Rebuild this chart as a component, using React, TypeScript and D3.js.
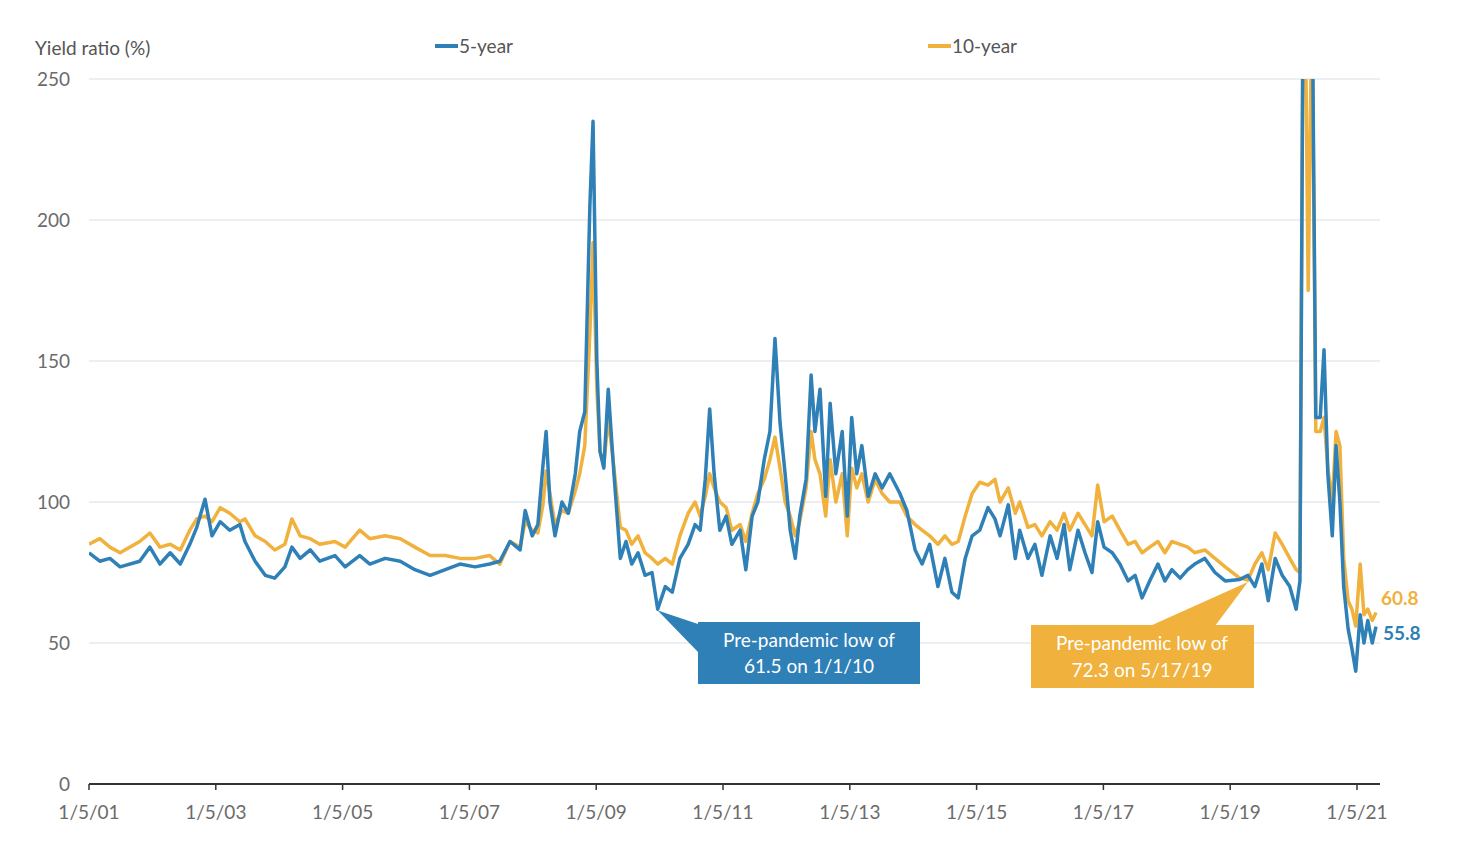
import React from "react";
import * as d3 from "d3";

// decimal years
const dates = [
  2001.0, 2001.17, 2001.33, 2001.49, 2001.8, 2001.96, 2002.12, 2002.28, 2002.44, 2002.59,
  2002.7, 2002.83, 2002.94, 2003.07, 2003.22, 2003.38, 2003.46, 2003.62, 2003.78, 2003.93,
  2004.09, 2004.2, 2004.33, 2004.49, 2004.64, 2004.88, 2005.04, 2005.27, 2005.43, 2005.67,
  2005.91, 2006.14, 2006.38, 2006.62, 2006.85, 2007.09, 2007.32, 2007.48, 2007.64, 2007.8,
  2007.88, 2007.99, 2008.08, 2008.16, 2008.21, 2008.27, 2008.35, 2008.46, 2008.56, 2008.67,
  2008.74, 2008.82, 2008.9, 2008.95, 2009.01, 2009.06, 2009.12, 2009.19, 2009.28, 2009.38,
  2009.47, 2009.56, 2009.66, 2009.77, 2009.88, 2009.97, 2010.09, 2010.2, 2010.32, 2010.45,
  2010.56, 2010.64, 2010.72, 2010.79, 2010.86, 2010.95, 2011.05, 2011.14, 2011.27, 2011.36,
  2011.46, 2011.55, 2011.65, 2011.74, 2011.82, 2011.9, 2011.98, 2012.06, 2012.14, 2012.21,
  2012.31, 2012.39, 2012.45, 2012.53, 2012.62, 2012.69, 2012.78, 2012.88, 2012.96, 2013.03,
  2013.11, 2013.19, 2013.29, 2013.4, 2013.51, 2013.63, 2013.79, 2013.9, 2014.03, 2014.14,
  2014.26, 2014.39, 2014.5, 2014.61, 2014.71, 2014.82, 2014.93, 2015.05, 2015.18, 2015.29,
  2015.37, 2015.5, 2015.61, 2015.68, 2015.81, 2015.92, 2016.03, 2016.16, 2016.27, 2016.38,
  2016.47, 2016.6, 2016.71, 2016.82, 2016.91, 2017.01, 2017.14, 2017.26, 2017.39, 2017.5,
  2017.61, 2017.73, 2017.86, 2017.97, 2018.08, 2018.21, 2018.33, 2018.44, 2018.6, 2018.76,
  2018.92, 2019.15, 2019.28, 2019.39, 2019.5, 2019.6, 2019.71, 2019.82, 2019.94, 2020.04,
  2020.1, 2020.16, 2020.23, 2020.29, 2020.35, 2020.42, 2020.48, 2020.54, 2020.61, 2020.67,
  2020.73, 2020.79, 2020.86, 2020.92, 2020.98, 2021.05, 2021.11, 2021.17, 2021.24, 2021.3,
];

const fiveYear = [
  82, 79, 80, 77, 79, 84, 78, 82, 78, 85,
  91, 101, 88, 93, 90, 92, 86, 79, 74, 73,
  77, 84, 80, 83, 79, 81, 77, 81, 78, 80,
  79, 76, 74, 76, 78, 77, 78, 79, 86, 83,
  97, 88, 92, 113, 125, 100, 88, 100, 96, 110,
  125, 132, 205, 235, 150, 118, 112, 140, 110, 80,
  86, 78, 82, 74, 75, 62, 70, 68, 80, 85,
  92, 90, 108, 133, 110, 90, 95, 85, 90, 76,
  95, 100, 115, 125, 158, 128, 110, 90, 80, 95,
  108, 145, 125, 140, 102, 135, 110, 125, 95, 130,
  110, 120, 102, 110, 105, 110, 103, 97, 83, 78,
  85, 70, 80, 68, 66, 80, 88, 90, 98, 94,
  88, 99, 80, 90, 80, 85, 74, 88, 80, 92,
  76, 90, 82, 75, 93, 84, 82, 78, 72, 74,
  66, 72, 78, 72, 76, 73, 76, 78, 80, 75,
  72, 72.5, 74, 70, 78, 65, 80, 74, 70, 62,
  72, 320, 300, 290, 130, 130, 154, 110, 88, 120,
  100, 70, 55, 48, 40, 60, 50, 58, 50, 55.8,
];

const tenYear = [
  85, 87, 84, 82, 86, 89, 84, 85, 83, 90,
  94, 95, 93, 98, 96, 93, 94, 88, 86, 83,
  85, 94, 88, 87, 85, 86, 84, 90, 87, 88,
  87, 84, 81, 81, 80, 80, 81, 78, 86, 84,
  93, 90, 89, 99, 111, 103, 92, 97, 96, 104,
  110, 120, 160, 192, 140, 118, 113, 130, 112, 91,
  90, 85, 88, 82, 80, 78, 80, 78, 88, 96,
  100, 95, 102, 110, 105, 100, 98, 90, 92, 86,
  96, 103, 108, 115, 123, 112, 100, 95, 88, 93,
  105, 125, 115, 110, 95, 115, 100, 110, 88, 112,
  105, 110, 100, 108, 103, 100, 100, 95, 92, 90,
  88, 85, 88, 85, 86, 95, 103, 107, 106, 108,
  100, 105, 96, 100, 91, 92, 88, 93, 90, 96,
  90, 96, 92, 88, 106, 93, 95, 90, 85, 86,
  82, 84, 86, 82, 86, 85, 84, 82, 83, 80,
  77, 73, 72.3, 78, 82, 76, 89, 85, 80, 76,
  75, 330, 175, 280, 125, 125, 130, 112, 100, 125,
  120, 80, 65, 62, 56, 78, 60, 62, 58, 60.8,
];

const yTicks = [0, 50, 100, 150, 200, 250];
const xTicks = [2001, 2003, 2005, 2007, 2009, 2011, 2013, 2015, 2017, 2019, 2021];
const xTickLabels = ["1/5/01", "1/5/03", "1/5/05", "1/5/07", "1/5/09", "1/5/11", "1/5/13", "1/5/15", "1/5/17", "1/5/19", "1/5/21"];

const BLUE = "#2f80b6";
const ORANGE = "#f0b13d";
const GREY = "#6b6b6b";
const FONT = "Lato, 'Open Sans', sans-serif";

export default function App() {
  const W = 1460, H = 846;
  const left = 89, right = 1380, top = 79, bottom = 784;
  const x = d3.scaleLinear().domain([2001, 2021]).range([left, 1357]);
  const y = d3.scaleLinear().domain([0, 250]).range([bottom, top]);

  const line = d3.line<number>().x((_, i) => x(dates[i])).y(d => y(d));

  const lowBlue = { t: 2009.97, v: 61.5 };
  const lowOrange = { t: 2019.28, v: 72.3 };

  return (
    <svg width={W} height={H} style={{ position: "absolute", left: 0, top: 0, background: "#fff" }} fontFamily={FONT}>
      <defs>
        <clipPath id="plot">
          <rect x={left} y={top} width={right - left + 20} height={bottom - top} />
        </clipPath>
      </defs>

      {yTicks.map(t => (
        <g key={t}>
          {t > 0 && <line x1={left} x2={right} y1={y(t)} y2={y(t)} stroke="#e6e8ec" strokeWidth={1.5} />}
          <text x={70} y={y(t)} dy="0.35em" textAnchor="end" fontSize={19} fill={GREY}>{t}</text>
        </g>
      ))}

      <line x1={left} x2={right} y1={bottom} y2={bottom} stroke="#333" strokeWidth={2} />
      {xTicks.map((t, i) => (
        <g key={t}>
          <line x1={x(t)} x2={x(t)} y1={bottom} y2={bottom + 6} stroke="#333" strokeWidth={1.5} />
          <text x={x(t)} y={819} textAnchor="middle" fontSize={19} fill={GREY}>{xTickLabels[i]}</text>
        </g>
      ))}

      <text x={35} y={55} fontSize={19} fill="#555">Yield ratio (%)</text>
      <line x1={435} x2={458} y1={46} y2={46} stroke={BLUE} strokeWidth={4} />
      <text x={459} y={53} fontSize={19} fill="#555">5-year</text>
      <line x1={928} x2={951} y1={46} y2={46} stroke={ORANGE} strokeWidth={4} />
      <text x={952} y={53} fontSize={19} fill="#555">10-year</text>

      <g clipPath="url(#plot)">
        <path d={line(tenYear) ?? ""} fill="none" stroke={ORANGE} strokeWidth={3.5} strokeLinejoin="round" />
        <path d={line(fiveYear) ?? ""} fill="none" stroke={BLUE} strokeWidth={3.5} strokeLinejoin="round" />
      </g>

      {/* blue annotation */}
      <polygon points={`${x(lowBlue.t)},${y(lowBlue.v)} 698,624 698,652`} fill={BLUE} />
      <rect x={698} y={622} width={222} height={62} fill={BLUE} />
      <text x={809} y={647} textAnchor="middle" fontSize={19} fill="#fff">Pre-pandemic low of</text>
      <text x={809} y={673} textAnchor="middle" fontSize={19} fill="#fff">61.5 on 1/1/10</text>

      {/* orange annotation */}
      <polygon points={`${x(lowOrange.t)},${y(lowOrange.v) + 2} 1150,626 1215,626`} fill={ORANGE} />
      <rect x={1031} y={625} width={223} height={63} fill={ORANGE} />
      <text x={1142} y={650} textAnchor="middle" fontSize={19} fill="#fff">Pre-pandemic low of</text>
      <text x={1142} y={677} textAnchor="middle" fontSize={19} fill="#fff">72.3 on 5/17/19</text>

      <text x={1381} y={605} fontSize={19} fontWeight={700} fill={ORANGE}>60.8</text>
      <text x={1383} y={640} fontSize={19} fontWeight={700} fill={BLUE}>55.8</text>
    </svg>
  );
}
